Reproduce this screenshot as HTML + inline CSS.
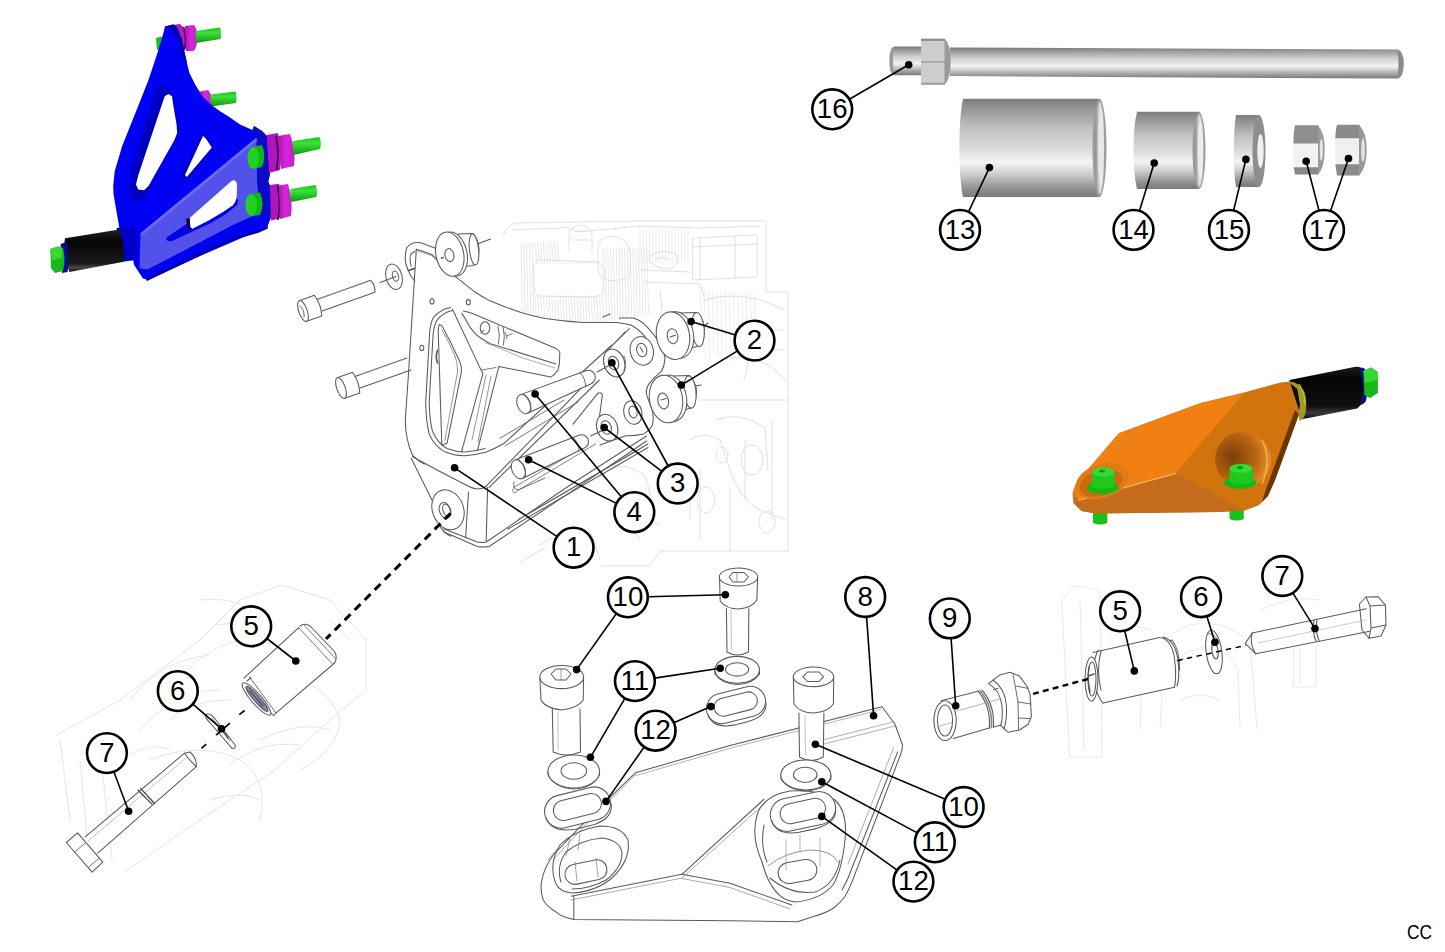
<!DOCTYPE html>
<html><head><meta charset="utf-8"><title>Engine mount exploded view</title>
<style>
html,body{margin:0;padding:0;background:#fff;overflow:hidden}
svg{display:block}
.n{font-family:"Liberation Sans",sans-serif;font-size:27.6px;fill:#000}
.cc{font-family:"Liberation Sans",sans-serif;font-size:20.6px;fill:#000}
</style></head><body>
<svg width="1445" height="952" viewBox="0 0 1445 952">
<rect width="1445" height="952" fill="#fff"/>
<g id="bg" fill="none" stroke="#dcdcdc" stroke-width="0.9" stroke-linejoin="round" stroke-linecap="round">
<path d="M503 236 Q506 226 515 223 L640 221 L766 221 L766 292 L788 292 L788 551 L660 551"/>
<path d="M512 230 L560 228 Q572 226 576 232 L600 230 L640 226 L700 228 L760 226"/>
<line x1="521.0" y1="243.0" x2="522.5" y2="322.0" stroke="#e3e3e3" stroke-width="0.8"/>
<line x1="523.8" y1="243.0" x2="525.3" y2="322.0" stroke="#e3e3e3" stroke-width="0.8"/>
<line x1="526.6" y1="243.0" x2="528.1" y2="322.0" stroke="#e3e3e3" stroke-width="0.8"/>
<line x1="529.4" y1="243.0" x2="530.9" y2="322.0" stroke="#e3e3e3" stroke-width="0.8"/>
<line x1="532.2" y1="243.0" x2="533.7" y2="322.0" stroke="#e3e3e3" stroke-width="0.8"/>
<line x1="535.0" y1="243.0" x2="536.5" y2="264.0" stroke="#e3e3e3" stroke-width="0.8"/>
<line x1="535.0" y1="296.0" x2="536.5" y2="322.0" stroke="#e3e3e3" stroke-width="0.8"/>
<line x1="537.8" y1="243.0" x2="539.3" y2="264.0" stroke="#e3e3e3" stroke-width="0.8"/>
<line x1="537.8" y1="296.0" x2="539.3" y2="322.0" stroke="#e3e3e3" stroke-width="0.8"/>
<line x1="540.6" y1="243.0" x2="542.1" y2="264.0" stroke="#e3e3e3" stroke-width="0.8"/>
<line x1="540.6" y1="296.0" x2="542.1" y2="322.0" stroke="#e3e3e3" stroke-width="0.8"/>
<line x1="543.4" y1="243.0" x2="544.9" y2="264.0" stroke="#e3e3e3" stroke-width="0.8"/>
<line x1="543.4" y1="296.0" x2="544.9" y2="322.0" stroke="#e3e3e3" stroke-width="0.8"/>
<line x1="546.2" y1="243.0" x2="547.7" y2="264.0" stroke="#e3e3e3" stroke-width="0.8"/>
<line x1="546.2" y1="296.0" x2="547.7" y2="322.0" stroke="#e3e3e3" stroke-width="0.8"/>
<line x1="549.0" y1="243.0" x2="550.5" y2="264.0" stroke="#e3e3e3" stroke-width="0.8"/>
<line x1="549.0" y1="296.0" x2="550.5" y2="322.0" stroke="#e3e3e3" stroke-width="0.8"/>
<line x1="551.8" y1="243.0" x2="553.3" y2="264.0" stroke="#e3e3e3" stroke-width="0.8"/>
<line x1="551.8" y1="296.0" x2="553.3" y2="322.0" stroke="#e3e3e3" stroke-width="0.8"/>
<line x1="554.6" y1="243.0" x2="556.1" y2="264.0" stroke="#e3e3e3" stroke-width="0.8"/>
<line x1="554.6" y1="296.0" x2="556.1" y2="322.0" stroke="#e3e3e3" stroke-width="0.8"/>
<line x1="557.4" y1="243.0" x2="558.9" y2="264.0" stroke="#e3e3e3" stroke-width="0.8"/>
<line x1="557.4" y1="296.0" x2="558.9" y2="322.0" stroke="#e3e3e3" stroke-width="0.8"/>
<line x1="560.2" y1="262.0" x2="561.7" y2="264.0" stroke="#e3e3e3" stroke-width="0.8"/>
<line x1="560.2" y1="296.0" x2="561.7" y2="322.0" stroke="#e3e3e3" stroke-width="0.8"/>
<line x1="563.0" y1="262.0" x2="564.5" y2="264.0" stroke="#e3e3e3" stroke-width="0.8"/>
<line x1="563.0" y1="296.0" x2="564.5" y2="322.0" stroke="#e3e3e3" stroke-width="0.8"/>
<line x1="565.8" y1="262.0" x2="567.3" y2="264.0" stroke="#e3e3e3" stroke-width="0.8"/>
<line x1="565.8" y1="296.0" x2="567.3" y2="322.0" stroke="#e3e3e3" stroke-width="0.8"/>
<line x1="568.6" y1="262.0" x2="570.1" y2="264.0" stroke="#e3e3e3" stroke-width="0.8"/>
<line x1="568.6" y1="296.0" x2="570.1" y2="322.0" stroke="#e3e3e3" stroke-width="0.8"/>
<line x1="571.4" y1="262.0" x2="572.9" y2="264.0" stroke="#e3e3e3" stroke-width="0.8"/>
<line x1="571.4" y1="296.0" x2="572.9" y2="322.0" stroke="#e3e3e3" stroke-width="0.8"/>
<line x1="574.2" y1="262.0" x2="575.7" y2="264.0" stroke="#e3e3e3" stroke-width="0.8"/>
<line x1="574.2" y1="296.0" x2="575.7" y2="322.0" stroke="#e3e3e3" stroke-width="0.8"/>
<line x1="577.0" y1="262.0" x2="578.5" y2="264.0" stroke="#e3e3e3" stroke-width="0.8"/>
<line x1="577.0" y1="296.0" x2="578.5" y2="322.0" stroke="#e3e3e3" stroke-width="0.8"/>
<line x1="579.8" y1="262.0" x2="581.3" y2="264.0" stroke="#e3e3e3" stroke-width="0.8"/>
<line x1="579.8" y1="296.0" x2="581.3" y2="322.0" stroke="#e3e3e3" stroke-width="0.8"/>
<line x1="582.6" y1="262.0" x2="584.1" y2="264.0" stroke="#e3e3e3" stroke-width="0.8"/>
<line x1="582.6" y1="296.0" x2="584.1" y2="322.0" stroke="#e3e3e3" stroke-width="0.8"/>
<line x1="585.4" y1="262.0" x2="586.9" y2="264.0" stroke="#e3e3e3" stroke-width="0.8"/>
<line x1="585.4" y1="296.0" x2="586.9" y2="322.0" stroke="#e3e3e3" stroke-width="0.8"/>
<line x1="588.2" y1="262.0" x2="589.7" y2="264.0" stroke="#e3e3e3" stroke-width="0.8"/>
<line x1="588.2" y1="296.0" x2="589.7" y2="322.0" stroke="#e3e3e3" stroke-width="0.8"/>
<line x1="591.0" y1="262.0" x2="592.5" y2="264.0" stroke="#e3e3e3" stroke-width="0.8"/>
<line x1="591.0" y1="296.0" x2="592.5" y2="322.0" stroke="#e3e3e3" stroke-width="0.8"/>
<line x1="593.8" y1="262.0" x2="595.3" y2="264.0" stroke="#e3e3e3" stroke-width="0.8"/>
<line x1="593.8" y1="296.0" x2="595.3" y2="322.0" stroke="#e3e3e3" stroke-width="0.8"/>
<line x1="596.6" y1="262.0" x2="598.1" y2="264.0" stroke="#e3e3e3" stroke-width="0.8"/>
<line x1="596.6" y1="296.0" x2="598.1" y2="322.0" stroke="#e3e3e3" stroke-width="0.8"/>
<line x1="599.4" y1="262.0" x2="600.9" y2="264.0" stroke="#e3e3e3" stroke-width="0.8"/>
<line x1="599.4" y1="296.0" x2="600.9" y2="322.0" stroke="#e3e3e3" stroke-width="0.8"/>
<line x1="602.2" y1="248.0" x2="603.7" y2="264.0" stroke="#e3e3e3" stroke-width="0.8"/>
<line x1="602.2" y1="296.0" x2="603.7" y2="321.7" stroke="#e3e3e3" stroke-width="0.8"/>
<line x1="605.0" y1="248.0" x2="606.5" y2="321.3" stroke="#e3e3e3" stroke-width="0.8"/>
<line x1="607.8" y1="248.0" x2="609.3" y2="320.8" stroke="#e3e3e3" stroke-width="0.8"/>
<line x1="610.6" y1="248.0" x2="612.1" y2="320.4" stroke="#e3e3e3" stroke-width="0.8"/>
<line x1="613.4" y1="248.0" x2="614.9" y2="320.0" stroke="#e3e3e3" stroke-width="0.8"/>
<line x1="616.2" y1="248.0" x2="617.7" y2="319.6" stroke="#e3e3e3" stroke-width="0.8"/>
<line x1="619.0" y1="248.0" x2="620.5" y2="319.2" stroke="#e3e3e3" stroke-width="0.8"/>
<line x1="621.8" y1="248.0" x2="623.3" y2="318.7" stroke="#e3e3e3" stroke-width="0.8"/>
<line x1="624.6" y1="248.0" x2="626.1" y2="318.3" stroke="#e3e3e3" stroke-width="0.8"/>
<line x1="627.4" y1="248.0" x2="628.9" y2="317.9" stroke="#e3e3e3" stroke-width="0.8"/>
<line x1="630.2" y1="248.0" x2="631.7" y2="317.5" stroke="#e3e3e3" stroke-width="0.8"/>
<line x1="633.0" y1="248.0" x2="634.5" y2="317.1" stroke="#e3e3e3" stroke-width="0.8"/>
<line x1="635.8" y1="248.0" x2="637.3" y2="316.6" stroke="#e3e3e3" stroke-width="0.8"/>
<line x1="638.6" y1="248.0" x2="640.1" y2="316.2" stroke="#e3e3e3" stroke-width="0.8"/>
<line x1="641.4" y1="248.0" x2="642.9" y2="315.8" stroke="#e3e3e3" stroke-width="0.8"/>
<line x1="644.2" y1="248.0" x2="645.7" y2="315.4" stroke="#e3e3e3" stroke-width="0.8"/>
<line x1="647.0" y1="248.0" x2="648.5" y2="315.0" stroke="#e3e3e3" stroke-width="0.8"/>
<path d="M534 264 Q536 259 545 260 L598 262 Q605 265 604 272 L603 292 Q600 297 592 297 L540 296 Q534 294 534 288 Z" stroke="#dadada"/>
<path d="M569 251 L569 236 Q570 226 580 225 Q591 226 592 236 L592 251 M572 240 L590 240 M575 231 L586 231"/>
<path d="M598 250 Q597 237 612 236 Q628 238 630.5 252 L630 276 Q622 282 606 280 Q598 276 598 266 Z"/>
<path d="M693 238 L757 235 L757 277 L693 280 Z M700 238 L700 280 M735 236 L735 278 M693 247 L757 244"/>
<line x1="640.0" y1="226" x2="640.0" y2="262" stroke="#e6e6e6" stroke-width="0.7"/>
<line x1="643.2" y1="226" x2="643.2" y2="262" stroke="#e6e6e6" stroke-width="0.7"/>
<line x1="646.4" y1="226" x2="646.4" y2="262" stroke="#e6e6e6" stroke-width="0.7"/>
<line x1="649.6" y1="226" x2="649.6" y2="262" stroke="#e6e6e6" stroke-width="0.7"/>
<line x1="652.8" y1="226" x2="652.8" y2="262" stroke="#e6e6e6" stroke-width="0.7"/>
<line x1="656.0" y1="226" x2="656.0" y2="262" stroke="#e6e6e6" stroke-width="0.7"/>
<line x1="659.2" y1="226" x2="659.2" y2="262" stroke="#e6e6e6" stroke-width="0.7"/>
<line x1="662.4" y1="226" x2="662.4" y2="262" stroke="#e6e6e6" stroke-width="0.7"/>
<line x1="665.6" y1="226" x2="665.6" y2="262" stroke="#e6e6e6" stroke-width="0.7"/>
<line x1="668.8" y1="226" x2="668.8" y2="262" stroke="#e6e6e6" stroke-width="0.7"/>
<line x1="672.0" y1="226" x2="672.0" y2="262" stroke="#e6e6e6" stroke-width="0.7"/>
<line x1="675.2" y1="226" x2="675.2" y2="262" stroke="#e6e6e6" stroke-width="0.7"/>
<line x1="678.4" y1="226" x2="678.4" y2="262" stroke="#e6e6e6" stroke-width="0.7"/>
<line x1="681.6" y1="226" x2="681.6" y2="262" stroke="#e6e6e6" stroke-width="0.7"/>
<line x1="684.8" y1="226" x2="684.8" y2="262" stroke="#e6e6e6" stroke-width="0.7"/>
<line x1="688.0" y1="226" x2="688.0" y2="262" stroke="#e6e6e6" stroke-width="0.7"/>
<path d="M650 256 Q662 248 676 254 Q682 262 672 268 Q658 270 650 262 Z M656 259 Q664 255 670 260"/>
<path d="M640 270 L690 272 M645 282 L700 284 L705 300 M660 290 L662 310"/>
<line x1="700.0" y1="292" x2="701.0" y2="350" stroke="#e6e6e6" stroke-width="0.7"/>
<line x1="704.2" y1="292" x2="705.2" y2="356" stroke="#e6e6e6" stroke-width="0.7"/>
<line x1="708.4" y1="292" x2="709.4" y2="362" stroke="#e6e6e6" stroke-width="0.7"/>
<line x1="712.6" y1="292" x2="713.6" y2="350" stroke="#e6e6e6" stroke-width="0.7"/>
<line x1="716.8" y1="292" x2="717.8" y2="356" stroke="#e6e6e6" stroke-width="0.7"/>
<line x1="721.0" y1="292" x2="722.0" y2="362" stroke="#e6e6e6" stroke-width="0.7"/>
<line x1="725.2" y1="292" x2="726.2" y2="350" stroke="#e6e6e6" stroke-width="0.7"/>
<line x1="729.4" y1="292" x2="730.4" y2="356" stroke="#e6e6e6" stroke-width="0.7"/>
<line x1="733.6" y1="292" x2="734.6" y2="362" stroke="#e6e6e6" stroke-width="0.7"/>
<line x1="737.8" y1="292" x2="738.8" y2="350" stroke="#e6e6e6" stroke-width="0.7"/>
<line x1="742.0" y1="292" x2="743.0" y2="356" stroke="#e6e6e6" stroke-width="0.7"/>
<line x1="746.2" y1="292" x2="747.2" y2="362" stroke="#e6e6e6" stroke-width="0.7"/>
<line x1="750.4" y1="292" x2="751.4" y2="350" stroke="#e6e6e6" stroke-width="0.7"/>
<line x1="754.6" y1="292" x2="755.6" y2="356" stroke="#e6e6e6" stroke-width="0.7"/>
<path d="M705 300 Q730 292 760 300 L786 310 M720 360 Q745 352 770 366 L786 380 M700 400 L788 400"/>
<path d="M715 420 Q740 410 765 428 L768 470 M690 440 Q702 430 720 440 L730 470 Q740 500 760 510 L786 520"/>
<path d="M700 470 L700 540 M730 490 L730 550 M745 440 L745 500 M772 420 L772 520"/>
<path d="M610 470 Q625 460 645 476 L652 500 M615 500 L640 540 M660 470 L690 480 L690 520 M620 520 Q640 510 660 525"/>
<ellipse cx="752" cy="460" rx="11" ry="15"/><ellipse cx="706" cy="500" rx="9" ry="13"/><ellipse cx="767" cy="522" rx="8" ry="11"/><ellipse cx="722" cy="455" rx="6" ry="8"/>
<path d="M540 545 Q560 530 582 543 M520 562 L545 548 M590 530 L600 560 M660 551 L650 566 L600 566"/>
<path d="M700 330 Q720 325 735 335 M740 330 L782 330 M744 340 Q752 360 744 380 M760 350 L785 350"/>
<g stroke="#e2e2e2">
<path d="M57 735 L120 700 L200 640 L240 600 L282 585 L330 600 L366 640 L366 690 L330 720 L275 770 L200 820 L124 872"/>
<path d="M180 680 Q200 650 240 640 Q280 640 300 660 M170 720 Q190 700 230 700 M150 760 Q200 740 240 760 Q270 780 260 820"/>
<path d="M300 680 Q330 690 340 720 Q338 750 300 770 M260 740 Q300 720 330 730"/>
<path d="M80 760 L90 870 M100 750 L112 860 M60 740 L70 820"/>
<path d="M200 600 Q230 596 250 610 M215 625 L260 620 M330 620 L350 640"/>
<path d="M210 800 Q240 790 260 800 M120 760 Q150 740 170 750"/>
<path d="M130 700 Q160 660 210 655 M140 730 Q175 690 220 690 M230 765 Q260 740 300 745"/>
</g>
<g stroke="#e6e6e6">
<path d="M1062 600 L1075 586 L1100 590 L1102 757 L1070 757 Z M1080 600 L1084 750"/>
<path d="M1140 729 L1142 680 Q1150 640 1190 625 Q1230 618 1250 645 L1257 729 M1160 729 L1162 690 Q1170 655 1200 648 Q1228 645 1238 670 L1240 729"/>
<path d="M1180 700 Q1200 690 1220 700 M1110 640 Q1130 620 1150 630 M1110 700 L1135 690"/>
<path d="M1294 637 L1316 637 L1316 687 L1294 687 Z M1300 640 L1300 684"/>
<path d="M1260 610 Q1290 595 1320 600 M1250 660 Q1270 640 1290 650"/>
</g>
</g>
<g id="bracket1" fill="none" stroke="#5a5a5a" stroke-width="1.05" stroke-linejoin="round" stroke-linecap="round">
<!-- white silhouette -->
<path stroke="none" fill="#fff" d="M410.8 277 Q405 268 406 259.7 Q406 250 412.3 244.7 L420.2 243 L436 232 L462 233 L476 235 L478 262 L462 276 L473.8 291.2 L505.3 306.9 L545 318.5 L583.4 322.5 L617.5 322.5 L620.4 317.9 L632.9 317.9 L656 312 L690 311 L705 316 L706 345 L697 360 L700 376 L697 405 L684 424 L652.5 425 L643.6 433.9 L625.7 435.7 L600 445 L610 462 L575 489.1 L489.1 546.5 L477.4 546.5 L443.5 531.8 L433 520 L433.2 502.4 L411.2 458.2 L405.3 420 L408.4 375 Z"/>
<!-- upper-left bolt A -->
<g transform="translate(303 311) rotate(-19.5)">
<path d="M0 -11 L16 -11 M0 11 L16 11 M16 -11 Q19.5 0 16 11"/>
<ellipse cx="0" cy="0" rx="4.2" ry="11" fill="#fff"/>
<path d="M-1 -6 Q2 0 -1 6" stroke-width="0.8"/>
<path d="M17 -6.3 L74 -6.3 M18 6.3 L74 6.3 M74 -6.3 Q77 0 74 6.3"/>
<path d="M22 -6.1 L70 -6.1" stroke="#999" stroke-width="0.6"/>
</g>
<!-- washer -->
<ellipse cx="394" cy="276.7" rx="8" ry="13" transform="rotate(-15 394 276.7)" fill="#fff"/>
<ellipse cx="395.5" cy="276.2" rx="3" ry="5.2" transform="rotate(-15 395.5 276.2)"/>
<path d="M380 282.4 L396 276.6 M409.5 270.2 L414 268.3"/>
<!-- lower bolt B -->
<g transform="translate(341 388) rotate(-19.5)">
<path d="M0 -11 L16 -11 M0 11 L16 11 M16 -11 Q19.5 0 16 11"/>
<ellipse cx="0" cy="0" rx="4.2" ry="11" fill="#fff"/>
<path d="M17 -6.3 L72 -6.3 M18 6.3 L72 6.3"/>
<path d="M22 -6.1 L70 -6.1" stroke="#999" stroke-width="0.6"/>
</g>
<!-- hook flange -->
<path d="M414.9 280.9 Q410 276 408.2 270.6 Q405 264 405.3 258.1 Q405.3 251 406.8 247.8 Q409 244.5 411.9 243.4 Q415 242.3 419.3 242.6 Q424 243.5 428.1 245.6 L436.2 248.5"/>
<path d="M415 251.5 Q412 252.5 410.8 254.4 Q409.8 257 410.1 260.3 Q410.5 264 411.2 266.2"/>
<path d="M416.3 250.5 L431.8 255.6 L438 262" stroke="#888" stroke-width="0.8"/>
<path d="M408.5 270.5 L414.5 268.5" stroke-width="1.5"/>
<!-- plate outer -->
<path d="M416.3 249.3 L413.4 295 L408.4 375 L405.3 420 Q405.5 440 412.6 455.3 Q418 461 424.4 464.1"/>
<path d="M416.3 249.3 Q424 251.5 431.8 254.4 Q437 259 442.8 266.2 L455.3 276.5 L458 278.6 Q466 285 473.8 291.2 Q481 296 489.5 300.6 Q497 304 505.3 306.9 L521 312.4 Q533 316 545 318.5 Q565 321.5 583.4 322.5 L617.5 322.5"/>
<path d="M603 317 L610 314" stroke-width="1.2"/>
<ellipse cx="432" cy="301.4" rx="2" ry="2.6"/><ellipse cx="468.3" cy="302.2" rx="2" ry="2.6"/><ellipse cx="421.8" cy="347.9" rx="2" ry="2.6"/>
<!-- top bushing 2 (near hook) -->
<path d="M458 234 L473 233.5 Q479 240 479 250 Q478.5 261 473 265.5 L460 267 Z" fill="#fff"/>
<ellipse cx="474" cy="249.5" rx="4.6" ry="15.5" transform="rotate(-6 474 249.5)" fill="#fff"/>
<ellipse cx="453.5" cy="254" rx="13.5" ry="22.3" transform="rotate(-12 453.5 254)" fill="#fff"/>
<ellipse cx="449.8" cy="254.2" rx="13.8" ry="22.4" transform="rotate(-12 449.8 254.2)" fill="#fff"/>
<ellipse cx="449.4" cy="255.1" rx="4.4" ry="6.6" transform="rotate(-12 449.4 255.1)"/>
<path d="M441.5 258 L443.5 257.5" stroke-width="1.4"/>
<path d="M478.5 243.5 L490.6 239"/>
<!-- window contour (double) -->
<path d="M450.7 307.5 Q440 309 432.9 318.2 Q429.5 326 429.3 339.6 L425.7 402.1 Q426 422 429.3 434.3 Q435 447 445.4 452.1 Q455 456 465 455.7 Q476 455 486.4 452.1 Q496 448 504.3 443.2 L612 345"/>
<path d="M452.5 310.5 Q443 312 436.4 321 Q433 328 432.8 340 L429.2 402 Q429.5 420 432.5 431.5 Q437.5 443 447 448.5 Q456 452 465 452 Q475 451.5 485 448.5"/>
<!-- Y rib -->
<path d="M452.5 309.3 L479.3 366.4 L482.9 373.6 L461.4 452.1"/>
<path d="M463.2 311.1 Q470 312 476 315 L556.1 348.6 Q561 351 559.6 355.7 Q560 364 557.9 370 Q555 375 550.7 377.1 L498.9 366.4 L477.5 450.4"/>
<path d="M461.8 313.4 Q465 318 466.9 321.8 Q470 328 473.6 331.9 Q477 335.5 480.3 337.8 Q485 341 490.4 343.7 L556 364"/>
<path d="M485.4 342.9 Q500 348 520 357.1 L555 368" stroke="#999" stroke-width="0.8"/>
<path d="M498 326 Q500.5 335 498.5 344 M503 327 Q505.5 336 503.5 345" stroke-width="0.9"/>

<path d="M482 370 L496 367.5" stroke-width="0.8"/>
<path d="M486 375 L472 440 M491 376 L478 442" stroke="#666" stroke-width="0.7"/>
<ellipse cx="485" cy="328" rx="4.8" ry="6.2"/>
<path d="M484 330 L481 333"/>
<path d="M504.7 332 L507 336 L512.3 333.5 M507 336 L506 339" stroke-width="0.8"/>
<!-- inner blade rib -->
<path d="M439.1 324.5 L441.8 325.4 Q450 340 457.9 357.5 Q462 365 461.4 371.8 L447.1 443.2 L441.8 445 L438.2 330.7 Z"/>
<path d="M442 330 Q449 342 455 356 Q458 364 457.5 372 L445 440" stroke="#666" stroke-width="0.7"/>
<path d="M437.5 350.4 Q435 356 437.5 362.9" stroke-width="1.6" stroke="#555"/>
<!-- lower box -->
<path d="M412.6 456.8 Q440 472 468.5 486.2 Q473 488.5 477.4 489.1 Q482 489 486.2 486.2 L581.8 387.4"/>
<path d="M489.1 487.4 L599.4 380"/>
<path d="M411.2 458.2 Q422 480 433.2 502.4 Q437 515 440.6 527.4 Q445 534 450.9 536.2"/>
<path d="M443.5 531.8 L477.4 546.5 Q483 547.5 489.1 546.5 L575 489.1 L646.5 441"/>
<path d="M443.5 528.8 L477.4 542 Q482 543 486.2 542 L575 481.8 L646.5 436"/>
<path d="M468.5 492 L465.6 537.6 M487.6 487.6 L486.2 540.6"/>
<ellipse cx="448" cy="509.7" rx="15.5" ry="20.5" transform="rotate(-20 448 509.7)" fill="#fff"/>
<ellipse cx="445" cy="510.5" rx="5.5" ry="8.2" transform="rotate(-20 445 510.5)"/>
<ellipse cx="446.5" cy="510" rx="3.5" ry="6" transform="rotate(-20 446.5 510)"/>
<!-- lower strut lines -->
<path d="M508 529 L648 447.5"/>
<path d="M518 519.5 L640 449" stroke="#777" stroke-width="0.9"/>
<path d="M528 514 L648 444"/>
<path d="M513.7 487.4 L587.4 445 M517.7 490.5 L595.6 444" stroke="#777" stroke-width="0.9"/>
<path d="M513.7 487.4 Q511 491 514 493 Q516 493 517.7 490.5" stroke="#777" stroke-width="0.9"/>
<path d="M573 424.1 L598 393.2 Q601 392 602.4 394.7 L599 420"/>
<path d="M500 438.2 L564.2 400 M505 446 L578 402" stroke="#666" stroke-width="0.9"/>
<!-- right plate with lobes -->
<path d="M619.4 318.8 L620.4 317.9 L632.9 317.9 Q641 320 647.1 326.8 Q654 334 659.6 342.9 Q664 350 665 358.9 Q664.5 366 661.4 371.4 Q654 377 648.9 383.9 Q645 390 647.1 396.4 Q650 404 652.5 410.7 Q654 418 652.5 425 Q649 431 643.6 433.9 Q634 436 625.7 435.7 L600 445"/>
<path d="M617.5 322.5 L631 325 Q640 330 646 338"/>
<ellipse cx="641.8" cy="350.9" rx="11.5" ry="14.5" transform="rotate(-15 641.8 350.9)"/>
<ellipse cx="641.8" cy="350" rx="5" ry="6.8" transform="rotate(-15 641.8 350)"/>
<path d="M640 347 L643 352"/>
<ellipse cx="632.8" cy="412.5" rx="9" ry="12" transform="rotate(-15 632.8 412.5)"/>
<ellipse cx="633" cy="412" rx="4" ry="6" transform="rotate(-15 633 412)"/>
<path d="M611.4 346.4 L629.3 328.6 M606 352 L625 332"/>
<!-- bushings 2 -->
<path d="M680 313 L697 312.5 Q704.5 320 704.5 330 Q704 341 697 346.5 L684 350 Z" fill="#fff"/>
<ellipse cx="698" cy="329.5" rx="6.2" ry="17" transform="rotate(-5 698 329.5)" fill="#fff"/>
<ellipse cx="677.5" cy="335" rx="16" ry="23.5" transform="rotate(-10 677.5 335)" fill="#fff"/>
<ellipse cx="673" cy="335.7" rx="16.5" ry="24" transform="rotate(-10 673 335.7)" fill="#fff"/>
<ellipse cx="672.6" cy="336.2" rx="5.3" ry="7.6" transform="rotate(-10 672.6 336.2)"/>
<path d="M670 337 L675.5 335.2"/>
<path d="M704 326 L708 323"/>
<path d="M672 376 L689.5 375.5 Q696.5 383 696.5 392 Q696 403 689.5 408.5 L676 412 Z" fill="#fff"/>
<ellipse cx="690" cy="392" rx="6" ry="16.2" transform="rotate(-5 690 392)" fill="#fff"/>
<ellipse cx="670.5" cy="398.3" rx="16" ry="23.5" transform="rotate(-10 670.5 398.3)" fill="#fff"/>
<ellipse cx="666" cy="399" rx="16.5" ry="24" transform="rotate(-10 666 399)" fill="#fff"/>
<ellipse cx="663.2" cy="401" rx="5.3" ry="8" transform="rotate(-10 663.2 401)"/>
<path d="M661 400 L666 398.5"/>
<path d="M696 386 L701 385"/>
<!-- washers 3 -->
<ellipse cx="614.3" cy="363" rx="10.3" ry="14.3" transform="rotate(-20 614.3 363)" fill="#fff"/>
<ellipse cx="613.5" cy="363" rx="5" ry="7" transform="rotate(-20 613.5 363)"/>
<path d="M624 356 Q627 362 624 370" stroke-width="0.8"/>
<ellipse cx="607.2" cy="427.7" rx="10.3" ry="13.7" transform="rotate(-20 607.2 427.7)" fill="#fff"/>
<ellipse cx="606.2" cy="427.5" rx="5" ry="7" transform="rotate(-20 606.2 427.5)"/>
<!-- pin 4a -->
<g transform="translate(523.8 404.1) rotate(-22.6)">
<path d="M0 -10 L70 -7 Q76 -6.5 77 0 Q76 6.5 70 7 L0 10 Z" fill="#fff"/>
<path d="M64 -7.3 Q67 0 64 7.3" stroke-width="0.8"/>
<ellipse cx="0" cy="0" rx="6.5" ry="10" fill="#fff"/>
<path d="M4 -9 Q8 0 4 9" stroke-width="0.8"/>
</g>
<path d="M597 372 L608.6 365.7"/>
<!-- pin 4b -->
<g transform="translate(518.4 469.3) rotate(-23.6)">
<path d="M0 -10 L69 -7 Q75 -6.5 76 0 Q75 6.5 69 7 L0 10 Z" fill="#fff"/>
<path d="M63 -7.3 Q66 0 63 7.3" stroke-width="0.8"/>
<ellipse cx="0" cy="0" rx="6.5" ry="10" fill="#fff"/>
<path d="M4 -9 Q8 0 4 9" stroke-width="0.8"/>
</g>
<path d="M590.7 436 L603.2 430"/>
<path d="M514 482 Q512 488 518 490 L545 478" stroke-width="0.9"/>
</g>

<g id="left" fill="none" stroke="#5a5a5a" stroke-width="1.05" stroke-linejoin="round" stroke-linecap="round">
<!-- bushing 5 left -->
<path stroke="none" fill="#fff" d="M243.9 678.1 L298.7 627.6 Q305 622 310 626 L334.5 651.5 Q338 657 334.6 663 L274.1 714.6 Q262 720 245 700 Q240 688 243.9 678.1 Z"/>
<path d="M243.9 678.1 L298.7 627.6 M274.1 714.6 L334.6 663"/>
<path d="M300 626 Q305 622.5 310 626 L334.5 651.5 Q338 657 334.6 663"/>
<path d="M298.7 627.6 L332 663.5 M304 625 L336 659" stroke-width="0.8"/>

<path d="M247 681 L251 677.5 M270.5 712.5 L274 716" />
<path d="M249.5 677 L276 713" stroke-width="0.9"/>
<ellipse cx="256.5" cy="699" rx="5.2" ry="21" transform="rotate(-41 256.5 699)" fill="#fff"/>
<ellipse cx="257" cy="699" rx="3" ry="16.5" transform="rotate(-41 257 699)" fill="#8a8aa8" stroke="#555"/>
<path d="M250 691 L263 706" stroke="#444466" stroke-width="1.2"/>

<!-- washer 6 left -->
<path d="M205.7 714.7 Q210 712 216 720 L235.1 745 Q236 749 232 748.3 L212 725 Q204 717 205.7 714.7 Z" fill="#fff"/>
<path d="M212 718 L230 741" stroke-width="0.8"/>
<path d="M223 731 L228 738" stroke="#557" stroke-width="1.6"/>
<!-- bolt 7 left -->
<path stroke="none" fill="#fff" d="M85.2 836.9 L184.5 753.2 L190 752 Q197 758 196.3 766.6 L97.8 853.2 L102.8 862.1 L92.1 872.1 L66.3 842.5 L77.6 832.8 Z"/>
<path d="M85.2 836.9 L184.5 753.2 L190 752 Q197 758 196.3 766.6 L97.8 853.2"/>
<path d="M88 841 L186 758" stroke="#aaa" stroke-width="0.7"/>
<path d="M184.5 753.2 Q189 760 196.3 766.6"/>
<path d="M138.1 790.2 L152 804.1 M140.6 788.4 L154.5 803.5" stroke="#445" stroke-width="1.3"/>
<path d="M66.3 842.5 L77.6 832.8 L102.8 862.1 L92.1 872.1 Z" fill="#fff"/>
<path d="M74.5 852 L85.2 843.2 M88.4 867.1 L99.1 858.3" stroke-width="0.8"/>
</g>

<g id="plate" fill="none" stroke="#5a5a5a" stroke-width="1.05" stroke-linejoin="round" stroke-linecap="round">
<!-- plate outline -->
<path d="M635.5 772.7 L730 745.6 L882 706.7 L894.9 724 L902.5 745 Q902.5 750 900.5 754.7 L855.9 871.6 Q851 886 844.8 896.7 Q840 903 833.7 908 Q826 913 815 916 L797.5 921.8 L730 920.7 L573.8 919.4 Q561 917 555.7 911.7 Q545 905 542.9 898.8 Q540 890 541.6 880.8 Q544 868 553.2 855 L581.5 825.4 Z"/>
<path d="M636 775.5 L730 748.3 L881 709.5" stroke="#aaa" stroke-width="0.9"/>
<path d="M822.5 740 L893 722 M824 744 L895 726" stroke="#999" stroke-width="0.8"/>
<path d="M897.7 751.9 L852 868 Q848 880 842 890" />
<path d="M893.5 748 L848 864" stroke="#888" stroke-width="0.7"/>
<!-- ridge lines -->
<path d="M571.2 896.2 L681.9 874.3 L764 799.2"/>
<path d="M571 900 L682 878 L765 803" stroke="#888" stroke-width="0.7"/>
<path d="M681.9 874.3 L730 883.3 L791.9 905"/>
<path d="M682 878.5 L730 887.5 L790 909" stroke="#888" stroke-width="0.7"/>
<path d="M573.8 896 L573.8 919.4"/>
<path d="M636 774 L581.5 829 L553 860" stroke="#888" stroke-width="0.7"/>
<!-- left boss -->
<path d="M556 884 Q548 864 560 845 Q575 830 600 826 Q622 826 628 840 Q631 860 612 878 Q595 892 572 893 Q560 892 556 884 Z"/>
<path d="M561 882 Q556 866 566 852 Q580 840 602 838 Q620 840 622 853 Q622 868 606 880 Q590 889 572 889"/>
<rect x="564.7" y="862" width="42.5" height="20" rx="10" transform="rotate(-12 586 872)"/>
<path d="M575 862 L577 881 M596 858 L598 877" stroke="#777" stroke-width="0.7"/>
<path d="M560 846 L548 860 M570 838 L566 856 M580 834 L578 850" stroke="#777" stroke-width="0.7"/>
<!-- right boss -->
<path d="M762 862 Q750 835 758 812 Q766 795 790 791 Q818 789 835 800 Q848 812 845 840 Q842 870 833 885 Q820 900 795 902 Q772 900 762 862 Z"/>
<path d="M767 862 Q760 845 764 825 M770 878 Q790 895 815 892 Q835 885 840 860"/>
<rect x="778" y="861" width="39" height="21" rx="10.5" transform="rotate(-10 797.5 871.5)"/>
<path d="M768 866 Q785 852 810 850 Q832 850 838 862" stroke="#777" stroke-width="0.8"/>
<path d="M786 840 L786 870 M820 838 L820 866 M800 835 L800 852" stroke="#888" stroke-width="0.6"/>
<!-- left bolt 10 -->
<path d="M539.8 677 L541 700 Q545 708 561.7 710 Q578 708 583.2 700 L583.6 677"/>
<ellipse cx="561.7" cy="677" rx="21.9" ry="11.6" fill="#fff"/>
<path d="M551 674 L556 669 L566 669 L571 674 L566 680 L556 680 Z"/>
<path d="M561 669 L561 680" stroke="#777" stroke-width="0.7"/>
<path d="M552.3 709 L553.2 752 M580 709 L580.5 752 M553.2 752 Q566 758 580.5 752"/>
<path d="M558 712 L558 750" stroke="#aaa" stroke-width="0.7"/>
<!-- left washer 11 -->
<path d="M548 771.4 L548 775 Q555 788 573.8 789 Q593 788 599.5 775 L599.5 771.4"/>
<ellipse cx="573.8" cy="771.4" rx="25.8" ry="16.5" fill="#fff"/>
<ellipse cx="573.8" cy="771" rx="12.8" ry="8.3"/>
<!-- left washer 12 -->
<g transform="rotate(-14 577.6 807.4)">
<rect x="544" y="791" width="67" height="33" rx="16.5" fill="#fff"/>
<rect x="553" y="797" width="49" height="20" rx="10"/>
<path d="M544.5 810 Q546 826 570 828 L590 828 Q610 826 611 812"/>
</g>
<!-- upper right bolt 10 -->
<path d="M719.5 577 L720.2 601 Q726 609 738.5 609 Q752 608 756.8 600 L757.7 577"/>
<ellipse cx="738.5" cy="577" rx="19.2" ry="9" fill="#fff"/>
<path d="M729 577 L733 572.5 L744 572.5 L748.5 577 L744 582 L733 582 Z"/>
<path d="M737 572.5 L737 582" stroke="#777" stroke-width="0.7"/>
<path d="M726.4 608.5 L727 652 Q737 658 748.5 652 L748.8 608.5"/>
<path d="M731 610 L731.5 650" stroke="#aaa" stroke-width="0.7"/>
<!-- upper right washer 11 -->
<path d="M714.8 669.8 L715 674 Q722 684 737.2 684.5 Q753 684 759.5 674 L759.5 669.8"/>
<ellipse cx="737.2" cy="669.8" rx="22.3" ry="13.4" fill="#fff"/>
<ellipse cx="737.1" cy="669.4" rx="11.6" ry="6.7"/>
<!-- upper right washer 12 -->
<g transform="rotate(-14 736 705)">
<rect x="706" y="690" width="60" height="30" rx="15" fill="#fff"/>
<rect x="714" y="695" width="44" height="18" rx="9"/>
<path d="M706.5 708 Q708 723 730 724 L744 724 Q764 723 765.5 710"/>
</g>
<!-- right bolt 10 -->
<path d="M798.9 710 L799.5 757 Q811 764 823.3 757 L823.9 710 Z" fill="#fff" stroke="none"/>
<path d="M793.3 676.8 L794 704 Q800 713 813.5 713 Q828 712 833.4 704 L833.7 676.8 Z" fill="#fff"/>
<ellipse cx="813.5" cy="676.8" rx="20.2" ry="9.8" fill="#fff"/>
<path d="M803 676.8 L807.5 672 L819 672 L823.5 676.8 L819 681.5 L807.5 681.5 Z"/>
<path d="M798.9 713 L799.5 757 Q811 764 823.3 757 L823.9 713"/>
<path d="M805 715 L805.5 755" stroke="#aaa" stroke-width="0.7"/>
<!-- right washer 11 -->
<path d="M780.8 774.9 L781 779 Q788 790 805.8 791 Q824 790 830.9 779 L830.9 774.9"/>
<ellipse cx="805.8" cy="774.9" rx="25" ry="15" fill="#fff"/>
<ellipse cx="805.2" cy="774.8" rx="11.8" ry="7.6"/>
<!-- right washer 12 -->
<g transform="rotate(-12 803 811.8)">
<rect x="770" y="795" width="66" height="33" rx="16.5" fill="#fff"/>
<rect x="780" y="801" width="46" height="20" rx="10"/>
<path d="M770.5 814 Q772 830 795 831 L810 831 Q834 830 835.5 816"/>
</g>
</g>

<g id="right" fill="none" stroke="#5a5a5a" stroke-width="1.05" stroke-linejoin="round" stroke-linecap="round">
<!-- part 9 -->
<path stroke="none" fill="#fff" d="M941 700.7 L988.4 683.6 L999.7 675.1 L1010.1 672.3 L1019.6 676.1 L1027.1 686.5 L1030 694 L1031.4 716.7 L1028.1 724.3 L1019.6 730 L1008.2 732.3 L1003.5 728.1 L953.4 738.5 Z"/>
<path d="M941.1 700.7 L978 691.2 M953.4 738.5 L989.3 728.1"/>
<path d="M978 691.2 Q991 706 989.3 728.1 M982 690.2 Q995 705 993.3 727.1" stroke-width="1.1"/>
<path d="M980 690.7 Q993 705.5 991.3 727.6" stroke="#888" stroke-width="1.6"/>
<path d="M993.3 689.5 L998 688.5 M993.3 727.1 L1000.6 725.2"/>
<path d="M988.4 683.6 L999.7 675.1 L1010.1 672.3 L1019.6 676.1 L1027.1 686.5 L1030 694 L1031.4 716.7 L1028.1 724.3 L1019.6 730 L1008.2 732.3 L1003.5 728.1 L1000.6 725.2"/>
<path d="M988.4 683.6 Q1000 690 1002 706 Q1003 720 1000.6 725.2 M993 680 Q1005 688 1006.5 706 Q1007 720 1004 729"/>
<path d="M1013 674.2 Q1016 690 1018 702 L1018.6 730 M1018 702 L1031 704 M1016 686 L1028 688.4 M1018.3 718 L1030 718.6" stroke-width="0.9"/>
<ellipse cx="945.1" cy="720.6" rx="11.1" ry="19.9" fill="#fff"/>
<ellipse cx="945" cy="720.5" rx="7.6" ry="15.5"/>
<path d="M939 726 L952 722.5 M953.4 712 L1000 699" stroke="#999" stroke-width="0.7"/>
<!-- bushing 5 right -->
<path stroke="none" fill="#fff" d="M1093 652.4 L1159.5 637.5 Q1175 638 1179.5 660 Q1180 680 1174.5 687.3 L1103 703.1 Q1085 690 1093 652.4 Z"/>
<path d="M1093 652.4 L1159.5 637.5 M1103 703.1 L1174.5 687.3"/>
<path d="M1098 650 Q1090 668 1096 690 Q1100 700 1103 703 M1101 651 Q1096 670 1101 690"/>
<path d="M1159.5 637.5 Q1170 638 1174 655 Q1177 675 1174.5 687.3 M1163 637 Q1175 640 1178 660 Q1180 678 1177 686"/>
<path d="M1170 641 L1172 640 Q1180 650 1179.5 670"/>
<ellipse cx="1091.5" cy="679" rx="6.5" ry="22" fill="#fff"/>
<ellipse cx="1092" cy="679" rx="4" ry="17"/>
<path d="M1089 667 Q1087 679 1090 692" stroke="#556" stroke-width="1.4"/>
<path d="M1094 674 L1088.5 676" stroke-width="1.6"/>
<path d="M1179.5 660 L1183 659"/>
<!-- washer 6 right -->
<ellipse cx="1214" cy="652" rx="7.8" ry="22" transform="rotate(-8 1214 652)" fill="#fff"/>
<ellipse cx="1215" cy="651" rx="3" ry="8" transform="rotate(-8 1215 651)"/>
<path d="M1208 634 Q1213 632 1218 640" stroke-width="0.8"/>
<!-- bolt 7 right -->
<path stroke="none" fill="#fff" d="M1245.3 643.4 L1252.2 633 L1359.4 604 L1366 597 L1378 596.7 L1385.4 605 L1386 625 L1381 636 L1369 638.2 L1255.6 653.8 Z"/>
<path d="M1245.3 643.4 L1252.2 633 L1366.4 608.8 M1245.3 643.4 L1255.6 653.8 L1369.8 631.3"/>
<path d="M1252.2 633 Q1249 643 1255.6 653.8"/>
<path d="M1314 620 Q1312 632 1316 641 M1317 619.5 Q1315 631 1319 640.5" stroke-width="1.1"/>
<path d="M1359.4 604 L1366 597 L1378 596.7 L1385.4 605 L1386 625 L1381 636 L1369 638.2 L1362 630 Z"/>
<path d="M1366 597 L1370 606 L1371 628 L1369 638.2 M1370 606 L1385.4 605 M1371 628 L1386 625"/>
<path d="M1258 643 L1366 620" stroke="#aaa" stroke-width="0.6"/>
</g>

<g id="tools">
<defs>
<linearGradient id="rodG" x1="0" y1="0" x2="0" y2="1">
<stop offset="0" stop-color="#777"/><stop offset="0.12" stop-color="#9a9a9a"/><stop offset="0.35" stop-color="#cfcfcf"/><stop offset="0.6" stop-color="#f2f2f2"/><stop offset="0.8" stop-color="#b5b5b5"/><stop offset="0.95" stop-color="#858585"/><stop offset="1" stop-color="#777"/></linearGradient>
<linearGradient id="cylG" x1="0" y1="0" x2="0" y2="1">
<stop offset="0" stop-color="#7e7e7e"/><stop offset="0.1" stop-color="#949494"/><stop offset="0.3" stop-color="#c2c2c2"/><stop offset="0.5" stop-color="#dadada"/><stop offset="0.65" stop-color="#f4f4f4"/><stop offset="0.78" stop-color="#c8c8c8"/><stop offset="0.92" stop-color="#8e8e8e"/><stop offset="1" stop-color="#7a7a7a"/></linearGradient>
<linearGradient id="endG" x1="0" y1="0" x2="1" y2="0"><stop offset="0" stop-color="#8a8a8a"/><stop offset="0.5" stop-color="#e0e0e0"/><stop offset="1" stop-color="#9a9a9a"/></linearGradient>
<linearGradient id="nutG" x1="0" y1="0" x2="1" y2="0"><stop offset="0" stop-color="#d0d0d0"/><stop offset="0.5" stop-color="#c6c6c6"/><stop offset="1" stop-color="#bdbdbd"/></linearGradient>
</defs>
<!-- rod 16 -->
<path d="M950 47.4 L1398 49.5 Q1404 52 1404 64 Q1404 76 1398 78.6 L950 76.1 Z" fill="url(#rodG)"/>
<path d="M1397 49.8 Q1403.5 52 1403.8 64 Q1403.5 76 1397 78.4 Q1400 64 1397 49.8 Z" fill="#8a8a8a"/>
<path d="M894 46.6 L921 46.6 L921 75.3 L894 75.3 Q889 73 889 61 Q889 49 894 46.6 Z" fill="url(#rodG)"/>
<path d="M894 47 Q889.5 50 889.5 61 Q889.5 72 894 75 Q892 61 894 47 Z" fill="#9a9a9a"/>
<path d="M921 38.7 L945 38.7 Q950.6 44 950.6 61.5 Q950.6 79 945 84.8 L921 84.8 Z" fill="#cdcdcd"/>
<rect x="921" y="38.7" width="24" height="2.2" fill="#8e8e8e"/>
<rect x="921" y="61.2" width="24" height="1.4" fill="#9e9e9e"/>
<rect x="921" y="82.6" width="24" height="2.2" fill="#a0a0a0"/>
<path d="M944.5 39 Q950.6 44 950.6 61.5 Q950.6 79 944.5 84.6 Z" fill="#9a9a9a"/>
<!-- cylinder 13 -->
<path d="M963 98.8 L1100 98.8 L1100 197 L963 197 Q959.4 180 959.4 148 Q959.4 116 963 98.8 Z" fill="url(#cylG)"/>
<ellipse cx="1099.5" cy="147.9" rx="7" ry="49.1" fill="#9c9c9c"/>
<ellipse cx="1100" cy="147.9" rx="5" ry="46" fill="url(#endG)"/>
<ellipse cx="1101" cy="147.9" rx="3" ry="40" fill="#e8e8e8"/>
<!-- cylinder 14 -->
<path d="M1137 111.7 L1199 111.7 L1199 189.1 L1137 189.1 Q1133.5 175 1133.5 150.4 Q1133.5 126 1137 111.7 Z" fill="url(#cylG)"/>
<ellipse cx="1199" cy="150.4" rx="6.5" ry="38.7" fill="#9c9c9c"/>
<ellipse cx="1199.5" cy="150.4" rx="4.8" ry="36" fill="url(#endG)"/>
<ellipse cx="1200.5" cy="150.4" rx="2.8" ry="30" fill="#ececec"/>
<!-- ring 15 -->
<path d="M1236 114.9 L1259 114.9 L1259 187 L1236 187 Q1233.8 175 1233.8 151 Q1233.8 127 1236 114.9 Z" fill="url(#cylG)"/>
<ellipse cx="1259" cy="151" rx="6.5" ry="36" fill="#8e8e8e"/>
<ellipse cx="1260.5" cy="151" rx="3.2" ry="17" fill="#f0f0f0"/>
<!-- nut 17a -->
<path d="M1295 125.2 L1318.5 125.2 L1318.5 174.6 L1295 174.6 Q1293 160 1293 150 Q1293 135 1295 125.2 Z" fill="#f2f2f2"/>
<path d="M1295 125.2 L1318.5 125.2 L1318.5 143.4 L1293.5 143.4 Q1293.5 132 1295 125.2 Z" fill="#8e8e8e"/>
<path d="M1293.6 167.3 L1318.5 167.3 L1318.5 174.6 L1295 174.6 Z" fill="#8a8a8a"/>
<path d="M1318 125.5 Q1324.7 132 1324.7 150 Q1324.7 168 1318 174.4 Z" fill="#9a9a9a"/>
<ellipse cx="1321.3" cy="150" rx="1.6" ry="11" fill="#e6e6e6"/>
<!-- nut 17b -->
<path d="M1337 124.7 L1359.5 124.7 L1359.5 175.6 L1337 175.6 Q1335 160 1335 150 Q1335 135 1337 124.7 Z" fill="#f0f0f0"/>
<path d="M1337 124.7 L1359.5 124.7 L1359.5 138.2 L1335.4 138.2 Q1335.6 129 1337 124.7 Z" fill="#8a8a8a"/>
<path d="M1335.3 164.2 L1359.5 164.2 L1359.5 175.6 L1337 175.6 Z" fill="#8a8a8a"/>
<path d="M1359 125 Q1366.7 132 1366.7 150 Q1366.7 168 1359 175.4 Z" fill="#989898"/>
<ellipse cx="1363" cy="150" rx="1.8" ry="12" fill="#e6e6e6"/>
</g>

<g id="blue">
<defs>
<linearGradient id="gpinH" x1="0" y1="0" x2="0" y2="1"><stop offset="0" stop-color="#13c813"/><stop offset="0.35" stop-color="#3ee03e"/><stop offset="1" stop-color="#0a9a0a"/></linearGradient>
<linearGradient id="magH" x1="0" y1="0" x2="1" y2="0"><stop offset="0" stop-color="#b010b8"/><stop offset="0.5" stop-color="#d828d8"/><stop offset="1" stop-color="#c020c8"/></linearGradient>
<linearGradient id="blk" x1="0" y1="0" x2="0" y2="1"><stop offset="0" stop-color="#202020"/><stop offset="0.3" stop-color="#050505"/><stop offset="0.8" stop-color="#1a1a1a"/><stop offset="0.9" stop-color="#4a4a4a"/><stop offset="1" stop-color="#101010"/></linearGradient>
</defs>
<!-- back green stubs -->
<path d="M156 38 L164 36 L164 49 L157 50 Z" fill="#16c016"/>
<path d="M171.5 100 L176 99 L176 113 L172 113 Z" fill="#16b016"/>
<!-- top magenta + pin -->
<path d="M172 25 L180 24 L186 30 L186 48 L180 51 L174 46 Z" fill="#b818c8"/>
<path d="M183.5 27 Q187 38 184.5 50" stroke="#300030" stroke-width="1.5" fill="none"/>
<path d="M185 26 L194 25 Q198 30 197 40 Q197 49 193 51 L186 51 Z" fill="url(#magH)"/>
<path d="M195.5 31 L220 27.5 Q222 33 220.5 39 L196 43 Z" fill="url(#gpinH)"/>
<!-- 2nd magenta + pin -->
<path d="M198 92 L208 90 Q212 95 212.5 102 L211 108 L202 110 Z" fill="url(#magH)"/>
<path d="M210.5 94.5 L235.5 91.5 Q237.5 97 236 103 L211 106.5 Z" fill="url(#gpinH)"/>
<!-- main silhouette -->
<path d="M165 26.5 L173 24.5 L176.5 26.5 L181.9 38.9 L184.4 51.5 L187 63 L189.4 72.9 L195.7 85.5 L203 97 L210.8 104.5 L219.7 111 L230 117.5 L240 124.5 L252.5 130 L254 126 L261.9 131 L268.2 137.3 L271.4 160.9 L269.8 175.1 L268.2 181.4 L270.6 187.7 L271.4 216 L267 227 L200 256 L148.8 279.4 L143 278.5 L134.1 265 L133 259 L120 259 L119.4 228 L116.5 211.8 L113.5 194.1 L113.2 185.9 L114.7 171.2 L122.1 146.2 L136.8 109.4 L148.5 80 L157.9 51.5 L162.9 35.1 Z" fill="#0000f2"/>
<!-- dark flange top-right -->
<path d="M252.5 130 L254 126 L261.9 131 L268.2 137.3 L271.4 160.9 L269.8 175.1 L268.2 181.4 L270.6 187.7 L271.4 216 L267 227 L262 228 L256 182 L257 137 Z" fill="#0a0ac8"/>
<!-- top ridge dark edge -->
<path d="M165 26.5 L173 24.5 L176.5 26.5 L181.9 38.9 L184.4 51.5 L187 63 L183 60 L179 42 L172 30 Z" fill="#0000b0"/>
<!-- window 1 dark rim -->
<path d="M158.8 84.4 L168 88 L174 98 L178 124 L178 134 L174.5 141 L150 187 L145 198 L135 201 L130 196 L130.9 168.2 L150 110 Z" fill="#0000c0"/>
<path d="M168.4 94 L172 96.2 L173.5 106.5 L176.5 124.1 L177.2 132.9 L174.3 140.3 L148.5 185.9 L144.1 190.3 L138.2 189.6 L136 184.4 L138.2 175.6 L164.7 96.2 Z" fill="#fff"/>
<!-- window 2 -->
<path d="M201 134 L207 137 L212.5 147.6 L188 179 L181 176 Z" fill="#0000b8"/>
<path d="M203 136 L206 138.8 L211.8 147.6 L186.8 177 L185 175 Z" fill="#fff"/>
<!-- front face -->
<path d="M256.5 137.7 L140.5 233.3 L139.5 268.5 L147.8 269.6 L232.8 225.3 L252 216.5 L260 214.5 L257 182 Z" fill="#5252ea"/>
<path d="M256.5 137.7 L140.5 233.3 L142 235.5 L257 141 Z" fill="#6a6af0"/>
<!-- bottom band -->
<path d="M139.5 268.5 L147.8 269.6 L232.8 225.3 L252 216.5 L264.4 214 L270 218 L267.5 226 L258 230.4 L232.8 237.3 L145.3 278.4 L143 277.5 Z" fill="#0000f0"/>
<path d="M145.3 278.4 L232.8 237.3 L258 230.4 L267.5 226 L268 228.5 L258 233 L233 240 L147 281 Z" fill="#0000b0"/>
<!-- window 3 -->
<path d="M166.5 237.5 L189.6 222 L192.5 228.8 L209.4 220 L224.1 211.2 L232.9 205.3 L236.6 197.9 L238 200 L237 205 L226 214 L211 223 L171 241.5 Q165 241 166.5 237.5 Z" fill="#0000e6"/>
<path d="M189.6 218 L231.5 181 Q233 180 234.4 180.3 Q237 181.5 237 184.7 L236.6 197.9 Q235.5 202.5 232.9 205.3 L224.1 211.2 L209.4 220 L192.5 228.8 L190.3 227.4 Z" fill="#fff"/>
<path d="M186 219 L189.6 218 L190.3 227.4 L192.5 228.8 L188 230.3 Z" fill="#000050"/>
<!-- green bolt heads front -->
<path d="M253 147 L262 145 Q266.5 156 262 167 L253 169 Z" fill="#0fb80f"/>
<ellipse cx="253.3" cy="158" rx="5.8" ry="11" fill="#22d022"/>
<path d="M251 194 L260 192.5 Q265 203.5 260 215 L251 216 Z" fill="#0fb80f"/>
<ellipse cx="251.2" cy="205" rx="5.8" ry="11" fill="#22d022"/>
<!-- right magenta + pins -->
<path d="M266.7 135 L278 133 Q283 150 280 170 L269 173 Z" fill="#b015c0"/>
<path d="M276 136 Q279.5 152 276.5 170" stroke="#300030" stroke-width="1.6" fill="none"/>
<path d="M277.7 136 L290 134 Q296 150 294 166 L281 169 Z" fill="url(#magH)"/>
<path d="M292.7 141 L319.4 137 Q322 143 320 149 L293.4 155 Z" fill="url(#gpinH)"/>
<path d="M269.8 185 L279 183.7 Q283 200 280 218 L271 220.8 Z" fill="#b015c0"/>
<path d="M277.5 186 Q281 202 278 220" stroke="#300030" stroke-width="1.6" fill="none"/>
<path d="M279 185.5 L288 184 Q293 200 291 216 L280 219 Z" fill="url(#magH)"/>
<path d="M290.3 189 L315.5 185 Q318 191 316.5 197 L291 202 Z" fill="url(#gpinH)"/>
<!-- boss -->
<path d="M116.5 228 L134 226 L138 240 L136 260 L120 262 Z" fill="#0000c8"/>
<!-- black bushing -->
<path d="M65 238.2 L119.4 229.4 Q125 245 123.8 261.8 L69.4 272 Q62 255 65 238.2 Z" fill="url(#blk)"/>
<path d="M60.6 244 L66.5 242 Q70 257 67.5 272 L62 273 Z" fill="#0a0a90"/>
<!-- green nut -->
<path d="M50.3 249 L58 246.5 L63 248 Q66 260 63 271 L55 273 L51 268 Z" fill="#18b818"/>
<path d="M50.3 249 L58 246.5 L62 248 L61.5 258 L52 260 Z" fill="#35d835"/>
</g>

<g id="orange">
<defs>
<linearGradient id="blk2" x1="0" y1="0" x2="0" y2="1"><stop offset="0" stop-color="#1a1a1a"/><stop offset="0.25" stop-color="#030303"/><stop offset="0.75" stop-color="#101010"/><stop offset="0.88" stop-color="#3a3a3a"/><stop offset="1" stop-color="#0a0a0a"/></linearGradient>
<radialGradient id="holeR" cx="0.3" cy="0.5" r="0.7"><stop offset="0" stop-color="#7a3f08"/><stop offset="0.6" stop-color="#b86410"/><stop offset="1" stop-color="#e89030"/></radialGradient>
</defs>
<!-- green stubs under -->
<path d="M1093 512 L1107.3 512 L1107.3 523 Q1100 526 1093 523 Z" fill="#18c018"/>
<path d="M1229.5 508 L1243.8 508 L1243.8 519 Q1236.5 522 1229.5 519 Z" fill="#18c018"/>
<!-- overall silhouette (front/lower face colour) -->
<path d="M1118.9 433.2 L1200 403.2 L1244.6 392.5 L1280.4 382.7 L1289.3 381.8 L1297.3 388.9 L1300 405 L1299.1 413.9 L1289.3 440.7 L1275 480 L1267.9 496.1 L1258.9 505 L1244.6 510.4 L1217.9 512.1 L1095.7 513.6 L1081.4 510.9 L1073.4 502.9 L1072.5 493.9 L1076.1 483.2 Z" fill="#c8721e"/>
<!-- right face -->
<path d="M1244.6 392.5 L1280.4 382.7 L1289.3 381.8 L1297.3 388.9 L1300 405 L1299.1 413.9 L1289.3 440.7 L1275 480 L1267.9 496.1 L1258.9 505 L1244.6 510.4 L1176 472.5 Z" fill="#d2740e"/>
<!-- dark right band -->
<path d="M1299.1 413.9 L1289.3 440.7 L1275 480 L1267.9 496.1 L1262 502 L1265 492 L1284 440 L1295 410 Z" fill="#6a3608"/>
<!-- top-left face (bright) -->
<path d="M1118.9 433.2 L1200 403.2 L1244.6 392.5 L1176 472.5 L1078 499.5 L1072.8 492 L1076.1 483.2 Z" fill="#f08012"/>
<!-- highlight edge -->
<path d="M1176 472.5 L1078 499.5 L1080 501.5 L1176.5 474.5 Z" fill="#ffb050"/>
<!-- lower face darker gradient near bottom -->
<path d="M1078 501 L1176 474 L1244.6 510.4 L1217.9 512.1 L1095.7 513.6 L1081.4 510.9 L1073.4 502.9 Z" fill="#c46c1c"/>
<!-- left counterbore -->
<ellipse cx="1102" cy="481" rx="27" ry="17" transform="rotate(-18 1102 481)" fill="#e07a14"/>
<ellipse cx="1101" cy="483" rx="22" ry="12.5" transform="rotate(-18 1101 483)" fill="#c86c10"/>
<!-- right hole -->
<ellipse cx="1243" cy="459.5" rx="28" ry="27.6" transform="rotate(15 1243 459.5)" fill="url(#holeR)"/>
<path d="M1262 440 Q1272 460 1262 484" stroke="#ffb050" stroke-width="1.4" fill="none"/>
<!-- green pins -->
<ellipse cx="1102.8" cy="487.6" rx="16" ry="6.3" fill="#14b814"/>
<path d="M1092.1 472 L1114.5 472 L1114.5 487 Q1103 491 1092.1 487 Z" fill="#1ec81e"/>
<ellipse cx="1103.3" cy="472" rx="11.2" ry="4.5" fill="#35da35"/>
<ellipse cx="1102" cy="471" rx="3" ry="1.6" fill="#119911"/>
<ellipse cx="1240.2" cy="482.6" rx="16" ry="6.3" fill="#14b814"/>
<path d="M1229.5 468.5 L1252.7 468.5 L1252.7 482 Q1241 486 1229.5 482 Z" fill="#1ec81e"/>
<ellipse cx="1241.1" cy="468.5" rx="11.6" ry="4.5" fill="#35da35"/>
<ellipse cx="1240" cy="467.5" rx="3" ry="1.6" fill="#119911"/>
<!-- black bushing -->
<path d="M1289.3 380 L1351.8 367.5 Q1362 365 1364 372 Q1368 385 1363 400 Q1361 406 1357.1 408.6 L1301.8 419.3 Z" fill="url(#blk2)"/>
<path d="M1359 369 Q1362 366 1365 369 Q1370 384 1366 401 Q1363 405 1360 405 Q1366 386 1359 369 Z" fill="#10107a"/>
<!-- olive collar -->
<path d="M1288 381.5 Q1299 381 1304.5 392 Q1307.5 402 1305.5 413 Q1303.5 420 1299.5 421 L1298.5 414 L1300 405 L1297.3 388.9 Z" fill="#a09a28"/>
<path d="M1299 384 Q1305 393 1305 405" stroke="#c8c040" stroke-width="1.2" fill="none"/>
<!-- green nut -->
<path d="M1363.4 371 L1371 367.5 L1377.7 372 L1378 393 L1370 397.9 L1364.5 395 Z" fill="#18b818"/>
<path d="M1363.4 371 L1371 367.5 L1377.7 372 L1377.8 380 L1365 383 Z" fill="#35d835"/>
</g>

<g id="dashes" fill="none" stroke="#000">
<line x1="450.5" y1="513.4" x2="326" y2="639" stroke-width="3" stroke-dasharray="8.3 5.9"/>
<line x1="1088" y1="679" x2="1032" y2="694.2" stroke-width="2.4" stroke-dasharray="6 4.2"/>
<path d="M244.6 710.5 L239.3 714.7 M229.9 723.1 L216.2 735.1 M206.2 744.1 L201.5 748.3" stroke-width="1.6"/>
<path d="M1177 660.7 L1245.9 645.3" stroke-width="1.5" stroke-dasharray="5.5 4.5"/>
</g>

<line x1="849.4" y1="99.3" x2="908.7" y2="64.7" stroke="#000" stroke-width="1.6"/>
<circle cx="908.7" cy="64.7" r="3.8" fill="#000"/>
<line x1="968.5" y1="211.9" x2="989.4" y2="167.6" stroke="#000" stroke-width="1.6"/>
<circle cx="989.4" cy="167.6" r="3.8" fill="#000"/>
<line x1="1139.4" y1="210.9" x2="1154.2" y2="163.0" stroke="#000" stroke-width="1.6"/>
<circle cx="1154.2" cy="163.0" r="3.8" fill="#000"/>
<line x1="1233.6" y1="210.5" x2="1245.9" y2="159.4" stroke="#000" stroke-width="1.6"/>
<circle cx="1245.9" cy="159.4" r="3.8" fill="#000"/>
<line x1="1319.0" y1="210.6" x2="1306.2" y2="161.2" stroke="#000" stroke-width="1.6"/>
<circle cx="1306.2" cy="161.2" r="3.8" fill="#000"/>
<line x1="1330.5" y1="211.1" x2="1348.5" y2="158.5" stroke="#000" stroke-width="1.6"/>
<circle cx="1348.5" cy="158.5" r="3.8" fill="#000"/>
<line x1="735.4" y1="334.9" x2="691.1" y2="321.5" stroke="#000" stroke-width="1.6"/>
<circle cx="691.1" cy="321.5" r="3.8" fill="#000"/>
<line x1="737.5" y1="350.9" x2="681.3" y2="385.1" stroke="#000" stroke-width="1.6"/>
<circle cx="681.3" cy="385.1" r="3.8" fill="#000"/>
<line x1="668.2" y1="466.0" x2="611.9" y2="362.7" stroke="#000" stroke-width="1.6"/>
<circle cx="611.9" cy="362.7" r="3.8" fill="#000"/>
<line x1="661.9" y1="471.4" x2="604.2" y2="427.5" stroke="#000" stroke-width="1.6"/>
<circle cx="604.2" cy="427.5" r="3.8" fill="#000"/>
<line x1="621.5" y1="497.0" x2="535.1" y2="394.0" stroke="#000" stroke-width="1.6"/>
<circle cx="535.1" cy="394.0" r="3.8" fill="#000"/>
<line x1="616.5" y1="503.4" x2="528.6" y2="459.8" stroke="#000" stroke-width="1.6"/>
<circle cx="528.6" cy="459.8" r="3.8" fill="#000"/>
<line x1="557.1" y1="536.6" x2="454.6" y2="467.8" stroke="#000" stroke-width="1.6"/>
<circle cx="454.6" cy="467.8" r="3.8" fill="#000"/>
<line x1="266.9" y1="638.5" x2="295.8" y2="661.0" stroke="#000" stroke-width="1.6"/>
<circle cx="295.8" cy="661.0" r="3.8" fill="#000"/>
<line x1="192.9" y1="704.1" x2="221.5" y2="728.8" stroke="#000" stroke-width="1.6"/>
<circle cx="221.5" cy="728.8" r="3.8" fill="#000"/>
<line x1="113.9" y1="771.7" x2="128.6" y2="811.3" stroke="#000" stroke-width="1.6"/>
<circle cx="128.6" cy="811.3" r="3.8" fill="#000"/>
<line x1="647.8" y1="596.8" x2="725.3" y2="594.7" stroke="#000" stroke-width="1.6"/>
<circle cx="725.3" cy="594.7" r="3.8" fill="#000"/>
<line x1="616.4" y1="613.5" x2="576.6" y2="669.6" stroke="#000" stroke-width="1.6"/>
<circle cx="576.6" cy="669.6" r="3.8" fill="#000"/>
<line x1="654.6" y1="678.1" x2="720.2" y2="668.3" stroke="#000" stroke-width="1.6"/>
<circle cx="720.2" cy="668.3" r="3.8" fill="#000"/>
<line x1="624.9" y1="698.3" x2="590.4" y2="757.3" stroke="#000" stroke-width="1.6"/>
<circle cx="590.4" cy="757.3" r="3.8" fill="#000"/>
<line x1="673.8" y1="722.7" x2="710.9" y2="706.6" stroke="#000" stroke-width="1.6"/>
<circle cx="710.9" cy="706.6" r="3.8" fill="#000"/>
<line x1="644.2" y1="747.0" x2="606.0" y2="801.4" stroke="#000" stroke-width="1.6"/>
<circle cx="606.0" cy="801.4" r="3.8" fill="#000"/>
<line x1="866.6" y1="616.9" x2="873.6" y2="715.7" stroke="#000" stroke-width="1.6"/>
<circle cx="873.6" cy="715.7" r="3.8" fill="#000"/>
<line x1="951.1" y1="638.3" x2="955.7" y2="705.7" stroke="#000" stroke-width="1.6"/>
<circle cx="955.7" cy="705.7" r="3.8" fill="#000"/>
<line x1="945.3" y1="799.2" x2="815.4" y2="744.3" stroke="#000" stroke-width="1.6"/>
<circle cx="815.4" cy="744.3" r="3.8" fill="#000"/>
<line x1="917.3" y1="832.9" x2="821.8" y2="781.8" stroke="#000" stroke-width="1.6"/>
<circle cx="821.8" cy="781.8" r="3.8" fill="#000"/>
<line x1="897.2" y1="870.1" x2="821.8" y2="816.4" stroke="#000" stroke-width="1.6"/>
<circle cx="821.8" cy="816.4" r="3.8" fill="#000"/>
<line x1="1124.7" y1="630.7" x2="1134.3" y2="670.9" stroke="#000" stroke-width="1.6"/>
<circle cx="1134.3" cy="670.9" r="3.8" fill="#000"/>
<line x1="1206.9" y1="616.2" x2="1214.9" y2="642.2" stroke="#000" stroke-width="1.6"/>
<circle cx="1214.9" cy="642.2" r="3.8" fill="#000"/>
<line x1="1292.8" y1="592.9" x2="1315.0" y2="628.6" stroke="#000" stroke-width="1.6"/>
<circle cx="1315.0" cy="628.6" r="3.8" fill="#000"/>
<circle cx="832.2" cy="109.3" r="19.9" fill="#fff" stroke="#000" stroke-width="2.6"/>
<text x="832.2" y="117.9" text-anchor="middle" class="n">16</text>
<circle cx="960.0" cy="229.9" r="19.9" fill="#fff" stroke="#000" stroke-width="2.6"/>
<text x="960.0" y="238.5" text-anchor="middle" class="n">13</text>
<circle cx="1133.5" cy="229.9" r="19.9" fill="#fff" stroke="#000" stroke-width="2.6"/>
<text x="1133.5" y="238.5" text-anchor="middle" class="n">14</text>
<circle cx="1229.0" cy="229.9" r="19.9" fill="#fff" stroke="#000" stroke-width="2.6"/>
<text x="1229.0" y="238.5" text-anchor="middle" class="n">15</text>
<circle cx="1324.0" cy="229.9" r="19.9" fill="#fff" stroke="#000" stroke-width="2.6"/>
<text x="1324.0" y="238.5" text-anchor="middle" class="n">17</text>
<circle cx="754.5" cy="340.6" r="19.9" fill="#fff" stroke="#000" stroke-width="2.6"/>
<text x="754.5" y="349.2" text-anchor="middle" class="n">2</text>
<circle cx="677.7" cy="483.5" r="19.9" fill="#fff" stroke="#000" stroke-width="2.6"/>
<text x="677.7" y="492.1" text-anchor="middle" class="n">3</text>
<circle cx="634.3" cy="512.2" r="19.9" fill="#fff" stroke="#000" stroke-width="2.6"/>
<text x="634.3" y="520.8" text-anchor="middle" class="n">4</text>
<circle cx="573.6" cy="547.7" r="19.9" fill="#fff" stroke="#000" stroke-width="2.6"/>
<text x="573.6" y="556.3" text-anchor="middle" class="n">1</text>
<circle cx="251.2" cy="626.3" r="19.9" fill="#fff" stroke="#000" stroke-width="2.6"/>
<text x="251.2" y="634.9" text-anchor="middle" class="n">5</text>
<circle cx="177.8" cy="691.1" r="19.9" fill="#fff" stroke="#000" stroke-width="2.6"/>
<text x="177.8" y="699.7" text-anchor="middle" class="n">6</text>
<circle cx="106.9" cy="753.1" r="19.9" fill="#fff" stroke="#000" stroke-width="2.6"/>
<text x="106.9" y="761.7" text-anchor="middle" class="n">7</text>
<circle cx="627.9" cy="597.3" r="19.9" fill="#fff" stroke="#000" stroke-width="2.6"/>
<text x="627.9" y="605.9" text-anchor="middle" class="n">10</text>
<circle cx="634.9" cy="681.1" r="19.9" fill="#fff" stroke="#000" stroke-width="2.6"/>
<text x="634.9" y="689.7" text-anchor="middle" class="n">11</text>
<circle cx="655.6" cy="730.7" r="19.9" fill="#fff" stroke="#000" stroke-width="2.6"/>
<text x="655.6" y="739.3" text-anchor="middle" class="n">12</text>
<circle cx="865.2" cy="597.0" r="19.9" fill="#fff" stroke="#000" stroke-width="2.6"/>
<text x="865.2" y="605.6" text-anchor="middle" class="n">8</text>
<circle cx="949.8" cy="618.4" r="19.9" fill="#fff" stroke="#000" stroke-width="2.6"/>
<text x="949.8" y="627.0" text-anchor="middle" class="n">9</text>
<circle cx="963.6" cy="807.0" r="19.9" fill="#fff" stroke="#000" stroke-width="2.6"/>
<text x="963.6" y="815.6" text-anchor="middle" class="n">10</text>
<circle cx="934.8" cy="842.3" r="19.9" fill="#fff" stroke="#000" stroke-width="2.6"/>
<text x="934.8" y="850.9" text-anchor="middle" class="n">11</text>
<circle cx="913.4" cy="881.6" r="19.9" fill="#fff" stroke="#000" stroke-width="2.6"/>
<text x="913.4" y="890.2" text-anchor="middle" class="n">12</text>
<circle cx="1120.1" cy="611.3" r="19.9" fill="#fff" stroke="#000" stroke-width="2.6"/>
<text x="1120.1" y="619.9" text-anchor="middle" class="n">5</text>
<circle cx="1201.0" cy="597.2" r="19.9" fill="#fff" stroke="#000" stroke-width="2.6"/>
<text x="1201.0" y="605.8" text-anchor="middle" class="n">6</text>
<circle cx="1282.3" cy="576.0" r="19.9" fill="#fff" stroke="#000" stroke-width="2.6"/>
<text x="1282.3" y="584.6" text-anchor="middle" class="n">7</text>
<text x="1407" y="939.4" class="cc" textLength="25" lengthAdjust="spacingAndGlyphs">CC</text>
</svg>
</body></html>
